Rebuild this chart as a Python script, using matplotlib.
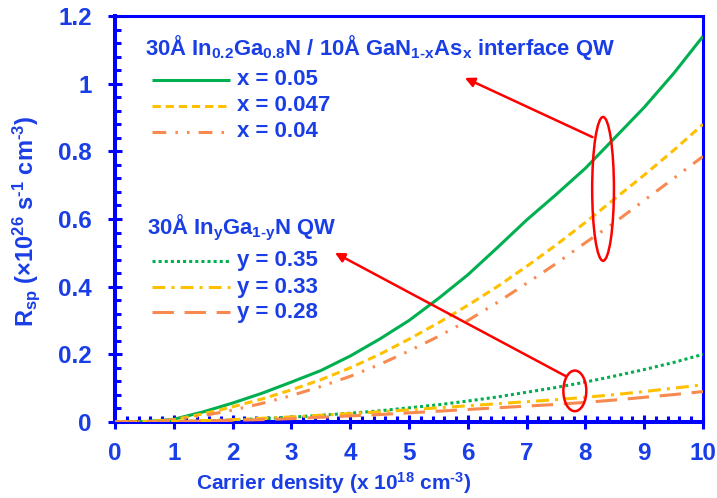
import matplotlib
matplotlib.use("Agg")
import matplotlib.pyplot as plt
from matplotlib.patches import Ellipse

plt.rcParams['font.family'] = ['Liberation Sans', 'DejaVu Sans']
plt.rcParams['font.weight'] = 'bold'
plt.rcParams['axes.labelweight'] = 'bold'
plt.rcParams['mathtext.fontset'] = 'custom'
plt.rcParams['mathtext.rm'] = 'Liberation Sans:bold'
plt.rcParams['mathtext.it'] = 'Liberation Sans:bold'
plt.rcParams['mathtext.bf'] = 'Liberation Sans:bold'
plt.rcParams['mathtext.default'] = 'rm'

# Carrier density (x 10^18 cm^-3)
density = [0, 0.5, 1, 1.5, 2, 2.5, 3, 3.5, 4, 4.5, 5,
           5.5, 6, 6.5, 7, 7.5, 8, 8.5, 9, 9.5, 10]

# Interface QW: 30A In0.2Ga0.8N / 10A GaN(1-x)As(x)
rsp_x050 = [0, 0.001, 0.008, 0.030, 0.056, 0.085, 0.118, 0.152, 0.195, 0.245, 0.300,
            0.365, 0.435, 0.515, 0.597, 0.672, 0.750, 0.840, 0.930, 1.030, 1.140]
rsp_x047 = [0, 0.001, 0.007, 0.024, 0.045, 0.068, 0.095, 0.125, 0.160, 0.200, 0.245,
            0.293, 0.345, 0.400, 0.460, 0.523, 0.590, 0.660, 0.730, 0.803, 0.880]
rsp_x040 = [0, 0.001, 0.006, 0.019, 0.035, 0.055, 0.078, 0.105, 0.135, 0.170, 0.210,
            0.253, 0.300, 0.353, 0.410, 0.468, 0.530, 0.590, 0.655, 0.720, 0.785]

# Conventional 30A InyGa(1-y)N QW
rsp_y035 = [0, 0, 0.001, 0.003, 0.006, 0.010, 0.014, 0.020, 0.026, 0.033, 0.042,
            0.051, 0.062, 0.074, 0.088, 0.102, 0.118, 0.136, 0.155, 0.176, 0.200]
rsp_y033 = [0, 0.001, 0.002, 0.004, 0.007, 0.011, 0.015, 0.020, 0.025, 0.030, 0.036,
            0.042, 0.048, 0.054, 0.060, 0.066, 0.073, 0.081, 0.090, 0.100, 0.110]
rsp_y028 = [0, 0, 0.001, 0.003, 0.005, 0.007, 0.010, 0.014, 0.018, 0.022, 0.027,
            0.032, 0.037, 0.042, 0.047, 0.052, 0.058, 0.065, 0.073, 0.081, 0.090]

x_ticks = [0, 1, 2, 3, 4, 5, 6, 7, 8, 9, 10]
y_ticks = [0, 0.2, 0.4, 0.6, 0.8, 1.0, 1.2]
y_tick_labels = ['0', '0.2', '0.4', '0.6', '0.8', '1', '1.2']

GREEN = '#00b050'
YELLOW = '#ffc000'
ORANGE = '#f98a4f'
TXT = '#1a3ee6'
AXC = '#0000ff'

fig = plt.figure(figsize=(7.17, 4.98), dpi=100)
ax = fig.add_axes([0.1604, 0.1526, 0.8201, 0.8153])

lw = 2.2
styles = [
    (rsp_x050, GREEN, None, 'x = 0.05'),
    (rsp_x047, YELLOW, (2.7, 1.6), 'x = 0.047'),
    (rsp_x040, ORANGE, (4.5, 3.0, 0.8, 3.0, 0.8, 3.0), 'x = 0.04'),
    (rsp_y035, GREEN, (1.0, 1.0), 'y = 0.35'),
    (rsp_y033, YELLOW, (4.2, 2.0, 1.0, 2.0), 'y = 0.33'),
    (rsp_y028, ORANGE, (7.0, 3.5), 'y = 0.28'),
]


def draw(xs, ys, col, dash, **kw):
    ln, = ax.plot(xs, ys, color=col, lw=lw, solid_capstyle='butt',
                  dash_capstyle='butt', **kw)
    if dash is not None:
        ln.set_dashes(dash)
    return ln


for vals, col, dash, lab in styles:
    draw(density, vals, col, dash, zorder=3)

ax.set_xlim(0, 10)
ax.set_ylim(0, 1.2)
ax.set_xticks(x_ticks)
ax.set_xticklabels([str(t) for t in x_ticks])
ax.set_yticks(y_ticks)
ax.set_yticklabels(y_tick_labels)
ax.set_xticks([i * 0.2 for i in range(51)], minor=True)
ax.set_yticks([i * 0.04 for i in range(31)], minor=True)
ax.tick_params(which='major', direction='inout', length=9.5, width=2.2,
               color=AXC, labelcolor=TXT, labelsize=17.5)
ax.tick_params(which='minor', direction='in', length=4.3, width=2.2, color=AXC)
ax.tick_params(axis='x', which='major', pad=10)
ax.tick_params(axis='y', which='major', pad=12)
ax.tick_params(top=False, right=False, which='both')
for s in ['left', 'bottom']:
    ax.spines[s].set_linewidth(2.9)
    ax.spines[s].set_color(AXC)
for s in ['top', 'right']:
    ax.spines[s].set_linewidth(2.2)
    ax.spines[s].set_color(AXC)

ax.set_xlabel('Carrier density (x 10$^{18}$ cm$^{\u20103}$)', color=TXT, fontsize=15)
ax.xaxis.set_label_coords(0.372, -0.118)
ax.set_ylabel('R$_{sp}$ (\u00d710$^{26}$ s$^{\u20101}$ cm$^{\u20103}$)', color=TXT, fontsize=17)
ax.yaxis.set_label_coords(-0.124, 0.495)

# Group titles
ax.text(0.51, 1.107, '30\u00c5 In$_{0.2}$Ga$_{0.8}$N / 10\u00c5 GaN$_{1\u2010x}$As$_{x}$ interface QW',
        color=TXT, fontsize=15.8, va='center', ha='left')
ax.text(0.54, 0.575, '30\u00c5 In$_{y}$Ga$_{1\u2010y}$N QW',
        color=TXT, fontsize=15.8, va='center', ha='left')

# Legend rows: line sample + text
rows_y = [1.012, 0.935, 0.858, 0.476, 0.399, 0.325]
for (vals, col, dash, lab), yy in zip(styles, rows_y):
    draw([0.63, 1.95], [yy, yy], col, dash, clip_on=False)
    ax.text(2.08, yy, lab, color=TXT, fontsize=16, va='center', ha='left')

# Annotation ellipses and arrows
RED = '#ff0000'
ax.add_patch(Ellipse((8.3, 0.689), 0.37, 0.425, fill=False, ec=RED, lw=1.8, zorder=4))
ax.add_patch(Ellipse((7.82, 0.092), 0.39, 0.12, fill=False, ec=RED, lw=1.8, zorder=4))
ax.annotate('', xy=(5.95, 1.017), xytext=(8.12, 0.842),
            arrowprops=dict(arrowstyle='-|>', color=RED, lw=1.8, mutation_scale=14,
                            shrinkA=0, shrinkB=0))
ax.annotate('', xy=(3.74, 0.50), xytext=(7.66, 0.136),
            arrowprops=dict(arrowstyle='-|>', color=RED, lw=1.8, mutation_scale=14,
                            shrinkA=0, shrinkB=0))

fig.savefig('out.png', dpi=100)
